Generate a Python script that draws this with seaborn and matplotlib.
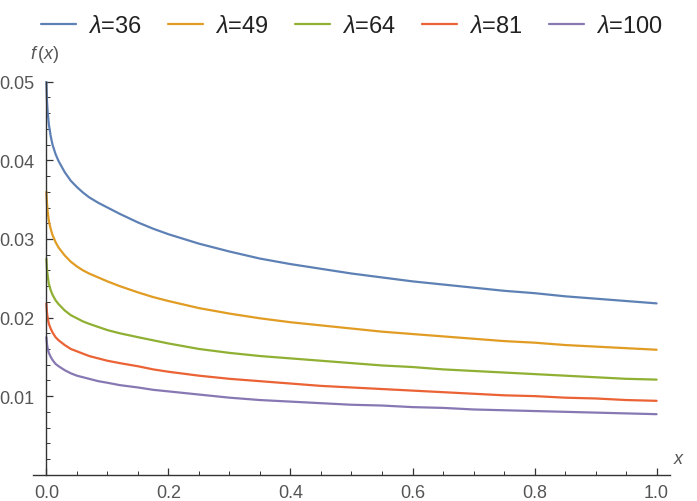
import numpy as np
import pandas as pd
import matplotlib
matplotlib.use("Agg")
import matplotlib.pyplot as plt
from matplotlib.ticker import MultipleLocator, FixedLocator
import seaborn as sns

# values
x_vals = [0, 0.001, 0.002, 0.004, 0.007, 0.01, 0.015, 0.02, 0.03, 0.04, 0.05, 0.06,
          0.07, 0.085, 0.1, 0.12, 0.15, 0.175, 0.2, 0.25, 0.3, 0.35, 0.4, 0.45,
          0.5, 0.55, 0.6, 0.65, 0.7, 0.75, 0.8, 0.85, 0.9, 0.95, 1.0]
f_36 = [0.0500, 0.0475, 0.0462, 0.0446, 0.0431, 0.0420, 0.0408, 0.0399, 0.0385, 0.0374,
        0.0366, 0.0359, 0.0353, 0.0346, 0.0340, 0.0332, 0.0321, 0.0313, 0.0306, 0.0294,
        0.0284, 0.0275, 0.0268, 0.0262, 0.0256, 0.0251, 0.0246, 0.0242, 0.0238, 0.0234,
        0.0231, 0.0227, 0.0224, 0.0221, 0.0218]
f_49 = [0.0360, 0.0345, 0.0336, 0.0323, 0.0313, 0.0305, 0.0296, 0.0289, 0.0279, 0.0271,
        0.0265, 0.0260, 0.0256, 0.0251, 0.0246, 0.0240, 0.0232, 0.0226, 0.0221, 0.0212,
        0.0205, 0.0199, 0.0194, 0.0190, 0.0186, 0.0182, 0.0179, 0.0176, 0.0173, 0.0170,
        0.0168, 0.0165, 0.0163, 0.0161, 0.0159]
f_64 = [0.0275, 0.0262, 0.0254, 0.0243, 0.0235, 0.0229, 0.0222, 0.0217, 0.0209, 0.0203,
        0.0199, 0.0195, 0.0192, 0.0188, 0.0184, 0.0180, 0.0175, 0.0171, 0.0167, 0.0160,
        0.0155, 0.0151, 0.0148, 0.0145, 0.0142, 0.0139, 0.0137, 0.0134, 0.0132, 0.0130,
        0.0128, 0.0126, 0.0124, 0.0122, 0.0121]
f_81 = [0.0218, 0.0206, 0.0200, 0.0192, 0.0186, 0.0181, 0.0175, 0.0171, 0.0165, 0.0160,
        0.0157, 0.0154, 0.0151, 0.0148, 0.0145, 0.0142, 0.0138, 0.0134, 0.0131, 0.0126,
        0.0122, 0.0119, 0.0116, 0.0113, 0.0111, 0.0109, 0.0107, 0.0105, 0.0103, 0.0101,
        0.0100, 0.0098, 0.0097, 0.0095, 0.0094]
f_100 = [0.0175, 0.0166, 0.0161, 0.0155, 0.0150, 0.0146, 0.0141, 0.0138, 0.0133, 0.0129,
         0.0126, 0.0124, 0.0122, 0.0119, 0.0117, 0.0114, 0.0111, 0.0108, 0.0106, 0.0102,
         0.0098, 0.0095, 0.0093, 0.0091, 0.0089, 0.0088, 0.0086, 0.0085, 0.0083, 0.0082,
         0.0081, 0.0080, 0.0079, 0.0078, 0.0077]

lambdas = ['36', '49', '64', '81', '100']
series = [f_36, f_49, f_64, f_81, f_100]
colors = ['#5E81B5', '#E19C24', '#8FB032', '#EB6235', '#8778B3']

sns.set_theme(style="white")
plt.rcParams['font.family'] = ['Liberation Sans', 'DejaVu Sans']
plt.rcParams['mathtext.fontset'] = 'custom'
plt.rcParams['mathtext.it'] = 'Liberation Sans:italic'
plt.rcParams['mathtext.rm'] = 'Liberation Sans'

fig = plt.figure(figsize=(6.97, 5.02), dpi=100)
ax = fig.add_axes([0.0473, 0.0524, 0.914, 0.7843])

for lam, vals, col in zip(lambdas, series, colors):
    sns.lineplot(x=x_vals, y=vals, ax=ax, color=col, linewidth=1.6,
                 label=r'$\lambda$=' + lam)

ax.set_xlim(-0.022, 1.022)
ax.set_ylim(0, 0.0501)

# mathematica-like axes crossing at origin
ax.spines['top'].set_visible(False)
ax.spines['right'].set_visible(False)
ax.spines['left'].set_position(('data', 0))
ax.spines['left'].set_bounds(0, 0.05)
for s in ['left', 'bottom']:
    ax.spines[s].set_color('#333333')
    ax.spines[s].set_linewidth(1.0)

ax.xaxis.set_major_locator(MultipleLocator(0.2))
ax.xaxis.set_minor_locator(MultipleLocator(0.05))
ax.yaxis.set_major_locator(FixedLocator([0.01, 0.02, 0.03, 0.04, 0.05]))
ax.yaxis.set_minor_locator(MultipleLocator(0.002))
ax.xaxis.set_major_formatter(plt.FuncFormatter(lambda v, p: f'{v:.1f}'))
ax.yaxis.set_major_formatter(plt.FuncFormatter(lambda v, p: f'{v:.2f}'))

ax.tick_params(axis='both', which='major', direction='in', length=5, width=0.9,
               color='#333333', labelsize=13, labelcolor='#555555')
ax.tick_params(axis='both', which='minor', direction='in', length=3, width=0.7,
               color='#333333')
ax.tick_params(axis='x', which='both', bottom=True, pad=7)
ax.tick_params(axis='y', which='both', left=True, pad=9)

ax.set_xlabel('')
ax.set_ylabel('')
ax.text(-0.003, 0.0523, r'$f\,(x)$', fontsize=13, color='#555555',
        ha='center', va='bottom')
ax.text(1.037, 0.001, r'$x$', fontsize=13, color='#555555',
        ha='center', va='bottom', clip_on=False)

handles, labels = ax.get_legend_handles_labels()
ax.get_legend().remove()
fig.legend(handles, labels, loc='upper center', bbox_to_anchor=(0.505, 1.01),
           ncol=5, frameon=False, fontsize=17, handlelength=1.5,
           handletextpad=0.5, columnspacing=1.1, labelcolor='#222222')

fig.savefig('out.png', dpi=100)
